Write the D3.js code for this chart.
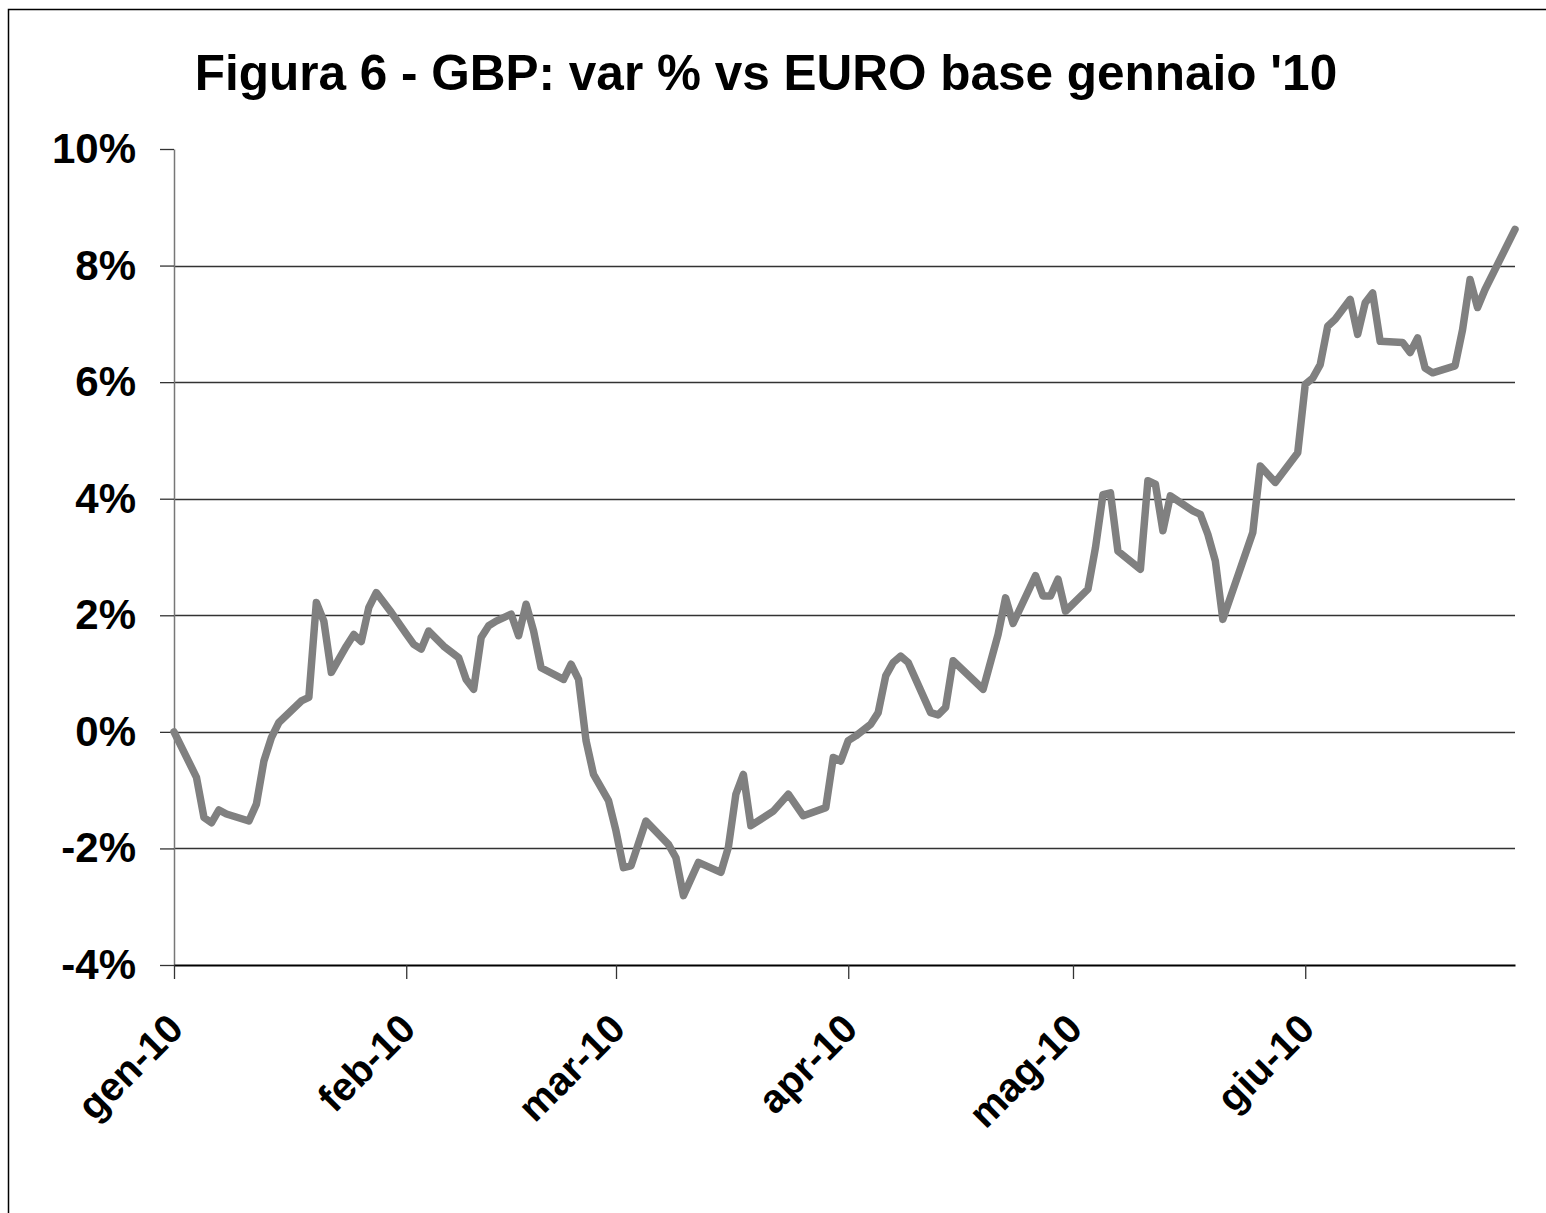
<!DOCTYPE html>
<html>
<head>
<meta charset="utf-8">
<script src="https://cdn.jsdelivr.net/npm/d3@7"></script>
<style>
  body { margin: 0; background: #fff; }
  svg text { font-family: "Liberation Sans", Arial, sans-serif; font-weight: bold; fill: #000; }
</style>
</head>
<body>
<div id="plot"></div>

<script>
  var title = "Figura 6 - GBP: var % vs EURO base gennaio '10";

  var dates = [
    "2010-01-01","2010-01-04","2010-01-05","2010-01-06","2010-01-07","2010-01-08",
    "2010-01-11","2010-01-12","2010-01-13","2010-01-14","2010-01-15",
    "2010-01-18","2010-01-19","2010-01-20","2010-01-21","2010-01-22",
    "2010-01-24","2010-01-25","2010-01-26","2010-01-27","2010-01-28","2010-01-30",
    "2010-02-01","2010-02-02","2010-02-03","2010-02-04","2010-02-06",
    "2010-02-08","2010-02-09","2010-02-10","2010-02-11","2010-02-12","2010-02-13",
    "2010-02-15","2010-02-16","2010-02-17","2010-02-18","2010-02-19",
    "2010-02-22","2010-02-23","2010-02-24","2010-02-25","2010-02-26","2010-02-28",
    "2010-03-01","2010-03-02","2010-03-03","2010-03-05",
    "2010-03-08","2010-03-09","2010-03-10","2010-03-12",
    "2010-03-15","2010-03-16","2010-03-17","2010-03-18","2010-03-19",
    "2010-03-22","2010-03-24","2010-03-26",
    "2010-03-29","2010-03-30","2010-03-31","2010-04-01","2010-04-02",
    "2010-04-04","2010-04-05","2010-04-06","2010-04-07","2010-04-08","2010-04-09",
    "2010-04-12","2010-04-13","2010-04-14","2010-04-15",
    "2010-04-19","2010-04-21","2010-04-22","2010-04-23",
    "2010-04-26","2010-04-27","2010-04-28","2010-04-29","2010-04-30",
    "2010-05-03","2010-05-04","2010-05-05","2010-05-06","2010-05-07",
    "2010-05-10","2010-05-11","2010-05-12","2010-05-13","2010-05-14",
    "2010-05-17","2010-05-18","2010-05-19","2010-05-20","2010-05-21",
    "2010-05-25","2010-05-26","2010-05-28",
    "2010-05-31","2010-06-01","2010-06-02","2010-06-03","2010-06-04","2010-06-05",
    "2010-06-07","2010-06-08","2010-06-09","2010-06-10","2010-06-11",
    "2010-06-14","2010-06-15","2010-06-16","2010-06-17","2010-06-18",
    "2010-06-21","2010-06-22","2010-06-23","2010-06-24","2010-06-25","2010-06-29"
  ];

  // variazione % GBP vs EURO (base gennaio '10)
  var values = [
    0.00,-0.78,-1.47,-1.56,-1.34,-1.41,
    -1.53,-1.24,-0.50,-0.10,0.16,
    0.53,0.59,2.22,1.90,1.02,
    1.47,1.67,1.55,2.13,2.39,2.05,
    1.68,1.50,1.42,1.73,1.47,
    1.27,0.90,0.73,1.62,1.82,1.90,
    2.02,1.65,2.19,1.73,1.10,
    0.90,1.16,0.90,-0.15,-0.73,-1.18,
    -1.70,-2.33,-2.30,-1.53,
    -1.93,-2.16,-2.81,-2.24,
    -2.41,-1.98,-1.07,-0.73,-1.61,
    -1.36,-1.07,-1.44,
    -1.30,-0.44,-0.50,-0.15,-0.07,
    0.13,0.33,0.96,1.19,1.30,1.19,
    0.33,0.29,0.42,1.22,
    0.73,1.67,2.30,1.86,
    2.68,2.33,2.33,2.62,2.07,
    2.45,3.16,4.07,4.10,3.10,
    2.79,4.31,4.25,3.45,4.05,
    3.79,3.73,3.39,2.93,1.93,
    3.42,4.56,4.28,
    4.79,5.96,6.07,6.30,6.96,7.08,
    7.42,6.82,7.36,7.53,6.70,
    6.68,6.51,6.76,6.24,6.16,
    6.28,6.90,7.76,7.28,7.59,8.62
  ];

  var yTicks = [-4, -2, 0, 2, 4, 6, 8, 10];
  var gridTicks = [-2, 0, 2, 4, 6, 8];
  var monthTicks = ["2010-01-01","2010-02-01","2010-03-01","2010-04-01","2010-05-01","2010-06-01"];
  var monthLabels = ["gen-10","feb-10","mar-10","apr-10","mag-10","giu-10"];
  var xDomain = ["2010-01-01","2010-06-29"];

  var margin = {top: 149, right: 31, bottom: 248, left: 174};
  var width = 1546 - margin.left - margin.right,
      height = 1213 - margin.top - margin.bottom;

  var parse = d3.utcParse("%Y-%m-%d");

  var data = dates.map(function(d, i) { return {date: parse(d), value: values[i]}; });

  var svg = d3.select("#plot")
    .append("svg")
    .attr("width", 1546)
    .attr("height", 1213);

  // cornice
  svg.append("path")
    .attr("d", "M8.5,1213V9.5H1546")
    .attr("fill", "none")
    .attr("stroke", "#000")
    .attr("stroke-width", 1.5);

  svg.append("text")
    .attr("x", 766)
    .attr("y", 90)
    .attr("text-anchor", "middle")
    .style("font-size", "49.5px")
    .text(title);

  var
    x = d3.scaleUtc().domain(xDomain.map(parse)).range([0, width]),
    y = d3.scaleLinear().domain([-4, 10]).range([height, 0]);

  var g = svg.append("g")
    .attr("transform", "translate(" + margin.left + "," + margin.top + ")");

  g.selectAll(".grid")
    .data(gridTicks)
    .enter().append("line")
      .attr("class", "grid")
      .attr("x1", 0)
      .attr("x2", width)
      .attr("y1", function(d) { return Math.round(y(d)) + 0.5; })
      .attr("y2", function(d) { return Math.round(y(d)) + 0.5; })
      .attr("stroke", "#333")
      .attr("stroke-width", 1.5);

  var yAxis = d3.axisLeft(y)
    .tickValues(yTicks)
    .tickSize(14)
    .tickSizeOuter(0)
    .tickPadding(24)
    .tickFormat(function(d) { return d + "%"; });

  var gy = g.append("g").call(yAxis);
  gy.select(".domain").attr("stroke", "#777").attr("stroke-width", 1.5);
  gy.selectAll(".tick line").attr("stroke", "#333").attr("stroke-width", 1.3);
  gy.selectAll("text").style("font-size", "42px").attr("fill", "#000");

  var xAxis = d3.axisBottom(x)
    .tickValues(monthTicks.map(parse))
    .tickSize(14)
    .tickSizeOuter(0)
    .tickFormat(function(d, i) { return monthLabels[i]; });

  var gx = g.append("g")
    .attr("transform", "translate(0," + height + ")")
    .call(xAxis);
  gx.select(".domain").attr("stroke", "#000").attr("stroke-width", 2);
  gx.selectAll(".tick line").attr("stroke", "#333").attr("stroke-width", 1.3);
  gx.selectAll("text")
    .style("font-size", "40px")
    .attr("fill", "#000")
    .attr("text-anchor", "end")
    .attr("x", 0)
    .attr("y", 0)
    .attr("dy", 0)
    .attr("transform", "translate(11,66) rotate(-45)");

  var line = d3.line()
    .x(function(d) { return x(d.date); })
    .y(function(d) { return y(d.value); });

  g.append("path")
    .datum(data)
    .attr("fill", "none")
    .attr("stroke", "#808080")
    .attr("stroke-width", 7.5)
    .attr("stroke-linejoin", "round")
    .attr("stroke-linecap", "round")
    .attr("d", line);
</script>
</body>
</html>
